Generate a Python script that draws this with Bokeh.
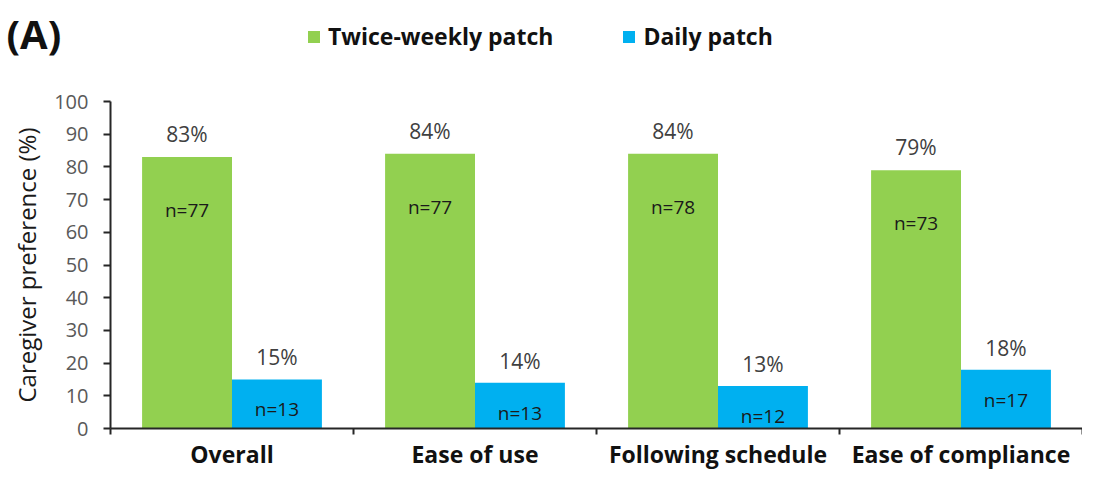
from bokeh.plotting import figure
from bokeh.models import ColumnDataSource, Range1d, FixedTicker, Label, Legend, LegendItem
from bokeh.transform import dodge
from bokeh.core.properties import value
from bokeh.embed import file_html
from bokeh.resources import INLINE

categories = ["Overall", "Ease of use", "Following schedule", "Ease of compliance"]
twice_weekly = [83, 84, 84, 79]
daily = [15, 14, 13, 18]
twice_n = ["n=77", "n=77", "n=78", "n=73"]
daily_n = ["n=13", "n=13", "n=12", "n=17"]
y_ticks = [0, 10, 20, 30, 40, 50, 60, 70, 80, 90, 100]

GREEN = "#92D050"
BLUE = "#00B0F0"
FONT = "Open Sans"

W_FIG, H_FIG = 1082, 472
AX_X, AX_TOP, AX_BOTTOM = 110, 101, 428   # pixel placement of the axes box
ncat = len(categories)
px_per_cat = (W_FIG - AX_X) / ncat
px_per_unit = (AX_BOTTOM - AX_TOP) / y_ticks[-1]

xs = [i + 0.5 for i in range(ncat)]
src = ColumnDataSource(dict(
    x=xs,
    tw=twice_weekly, dl=daily,
    tw_pct=[f"{v}%" for v in twice_weekly],
    dl_pct=[f"{v}%" for v in daily],
    tw_n=twice_n, dl_n=daily_n,
))

p = figure(width=W_FIG, height=H_FIG, output_backend="svg", toolbar_location=None,
           x_range=Range1d(-AX_X / px_per_cat, ncat),
           y_range=Range1d(-(H_FIG - AX_BOTTOM) / px_per_unit, AX_BOTTOM / px_per_unit),
           min_border_left=0, min_border_right=0, min_border_top=0, min_border_bottom=0)
p.outline_line_color = None
p.xgrid.visible = False
p.ygrid.visible = False
p.background_fill_color = "white"
p.border_fill_color = "white"

W = 0.37
OFF = 0.185
g = p.vbar(x=dodge("x", -OFF), top="tw", width=W, source=src, fill_color=GREEN, line_color=None)
b = p.vbar(x=dodge("x", OFF), top="dl", width=W, source=src, fill_color=BLUE, line_color=None)

p.text(x=dodge("x", -OFF), y="tw", text="tw_pct", source=src, text_align="center",
       text_baseline="middle", y_offset=-23, text_font=value(FONT), text_font_size="21px",
       text_color="#404040")
p.text(x=dodge("x", OFF), y="dl", text="dl_pct", source=src, text_align="center",
       text_baseline="middle", y_offset=-22, text_font=value(FONT), text_font_size="21px",
       text_color="#404040")
p.text(x=dodge("x", -OFF), y="tw", text="tw_n", source=src, text_align="center",
       text_baseline="middle", y_offset=53, text_font=value(FONT), text_font_size="19px",
       text_color="#1a1a1a")
p.text(x=dodge("x", OFF), y="dl", text="dl_n", source=src, text_align="center",
       text_baseline="middle", y_offset=30, text_font=value(FONT), text_font_size="19px",
       text_color="#1a1a1a")

# x axis, drawn at y = 0
xax = p.xaxis[0]
xax.fixed_location = 0
xax.ticker = FixedTicker(ticks=xs, minor_ticks=list(range(ncat + 1)))
xax.bounds = (0, ncat)
xax.major_label_overrides = {x: c for x, c in zip(xs, categories)}
xax.major_tick_line_color = None
xax.minor_tick_out = 6
xax.minor_tick_in = 0
xax.minor_tick_line_color = "#262626"
xax.minor_tick_line_width = 2
xax.axis_line_color = "#262626"
xax.axis_line_width = 2
xax.major_label_text_font = FONT
xax.major_label_text_font_size = "23px"
xax.major_label_text_font_style = "bold"
xax.major_label_text_color = "#111111"
xax.major_label_standoff = 3

# y axis, drawn at x = 0
yax = p.yaxis[0]
yax.fixed_location = 0
yax.bounds = (0, y_ticks[-1])
yax.ticker = FixedTicker(ticks=y_ticks)
yax.minor_tick_line_color = None
yax.major_tick_out = 7
yax.major_tick_in = 0
yax.major_tick_line_color = "#262626"
yax.major_tick_line_width = 2
yax.axis_line_color = "#262626"
yax.axis_line_width = 2
yax.major_label_text_font = FONT
yax.major_label_text_font_size = "20px"
yax.major_label_text_color = "#595959"
yax.major_label_standoff = 15
yax.axis_label = "Caregiver preference (%)"
yax.axis_label_text_font = FONT
yax.axis_label_text_font_size = "24px"
yax.axis_label_text_font_style = "normal"
yax.axis_label_text_color = "#1a1a1a"
yax.axis_label_standoff = 8

legend = Legend(items=[LegendItem(label="Twice-weekly patch", renderers=[g]),
                       LegendItem(label="Daily patch", renderers=[b])],
                orientation="horizontal", location=(306, H_FIG - 52),
                label_text_font=FONT, label_text_font_size="23px",
                label_text_font_style="bold", label_text_color="#111111",
                glyph_width=15, glyph_height=15, label_standoff=7, spacing=68,
                padding=0, margin=0, border_line_color=None, background_fill_alpha=0)
p.add_layout(legend, "center")

p.add_layout(Label(x=6, y=H_FIG - 33, x_units="screen", y_units="screen", text="(A)",
                   text_font=FONT, text_font_size="40px", text_font_style="bold",
                   text_baseline="middle", text_color="#111111"))

open("out.html", "w").write(file_html(p, INLINE))
